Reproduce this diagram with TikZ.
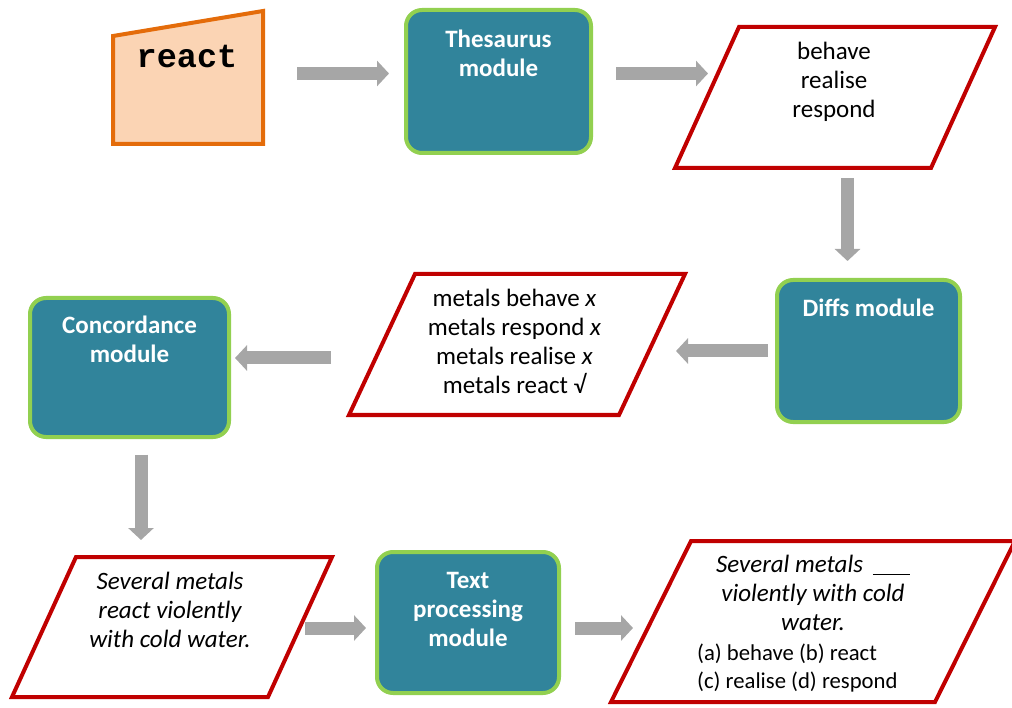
\documentclass[tikz,border=0pt]{standalone}
\usepackage{fontspec}
\setmainfont{Carlito}
\newfontfamily\reactfont{Liberation Mono}
\usetikzlibrary{arrows.meta,calc}
\definecolor{modfill}{HTML}{31849B}
\definecolor{modline}{HTML}{92D050}
\definecolor{paracol}{HTML}{C00000}
\definecolor{reactcol}{HTML}{E46C0A}
\definecolor{reactfill}{HTML}{FBD4B4}
\definecolor{arrowgray}{HTML}{A6A6A6}
\tikzset{
  module/.style={draw=modline, fill=modfill, line width=4pt, rounded corners=16pt, inner sep=0pt, outer sep=0pt},
  modtext/.style={text=white, font=\fontsize{25}{29}\selectfont\bfseries, align=center, inner sep=0pt,
    execute at begin node=\strut, execute at end node=\strut},
  ghost/.style={draw=none, inner sep=0pt, outer sep=0pt},
  paraline/.style={draw=paracol, line width=4pt, line join=miter},
  paratext/.style={text=black, font=\fontsize{25}{29}\selectfont, align=center, inner sep=0pt,
    execute at begin node=\strut, execute at end node=\strut},
  smalltext/.style={text=black, font=\fontsize{22.7}{28}\selectfont, align=left, inner sep=0pt,
    execute at begin node=\strut, execute at end node=\strut},
  bigarrow/.style={draw=arrowgray, line width=13pt, -{Triangle[length=12pt,width=25pt]}}
}
\begin{document}
\begin{tikzpicture}[x=1pt,y=-1pt]
\useasboundingbox (0,0) rectangle (1012,708);

% react input shape
\node[ghost, minimum width=150pt, minimum height=133pt] (react) at (188,77.5) {};
\draw[draw=reactcol, fill=reactfill, line width=4pt, line join=miter]
  (react.south west) -- ($(react.north west)+(0,25)$) -- (react.north east) -- (react.south east) -- cycle;
\node[inner sep=0pt, font=\fontsize{33.5}{36}\selectfont\reactfont\bfseries] (reacttxt) at (187,57) {react};

% modules
\node[module, minimum width=185pt, minimum height=143pt] (thes) at (498.5,81.5) {};
\node[modtext] (thestxt) at (498.5,58) {Thesaurus\\module};

\node[module, minimum width=183pt, minimum height=142pt] (diffs) at (868.5,351) {};
\node[modtext] (diffstxt) at (868.5,311) {Diffs module};

\node[module, minimum width=199pt, minimum height=139pt] (conc) at (129.5,367.5) {};
\node[modtext] (conctxt) at (129.5,343.5) {Concordance\\module};

\node[module, minimum width=182pt, minimum height=141pt] (tp) at (468,622.5) {};
\node[modtext] (tptxt) at (468,613.5) {Text\\processing\\module};

% parallelograms
\node[ghost, minimum width=320pt, minimum height=141pt] (p1) at (835,97.5) {};
\draw[paraline] (p1.south west) -- ($(p1.north west)+(64,0)$) -- (p1.north east) -- ($(p1.south east)+(-64,0)$) -- cycle;
\node[paratext] (p1txt) at (834,84) {behave\\realise\\respond};

\node[ghost, minimum width=336pt, minimum height=141pt] (p2) at (517,344.5) {};
\draw[paraline] (p2.south west) -- ($(p2.north west)+(66,0)$) -- (p2.north east) -- ($(p2.south east)+(-66,0)$) -- cycle;
\node[paratext] (p2txt) at (514.5,346) {metals behave \textit{x}\\metals respond \textit{x}\\metals realise \textit{x}\\metals react √};

\node[ghost, minimum width=320pt, minimum height=140pt] (p3) at (172,627) {};
\draw[paraline] (p3.south west) -- ($(p3.north west)+(64,0)$) -- (p3.north east) -- ($(p3.south east)+(-64,0)$) -- cycle;
\node[paratext, font=\fontsize{25}{29}\selectfont\itshape] (p3txt) at (170,614) {Several metals\\react violently\\with cold water.};

\node[ghost, minimum width=404pt, minimum height=161pt] (p4) at (813,621.5) {};
\draw[paraline] (p4.south west) -- ($(p4.north west)+(80,0)$) -- (p4.north east) -- ($(p4.south east)+(-80,0)$) -- cycle;
\node[paratext, font=\fontsize{25}{29}\selectfont\itshape] (p4txt) at (813,597) {Several metals\hspace{10pt}\rule[-3pt]{37pt}{1.5pt}\\violently with cold\\water.};
\node[smalltext, anchor=west] (p4opts) at (697,670) {(a) behave (b) react\\(c) realise (d) respond};

% arrows
\draw[bigarrow, shorten <=34pt, shorten >=17pt] ($(react.east)+(0,-4)$) -- ($(react.east -| thes.west)+(0,-4)$);
\draw[bigarrow, shorten <=25pt, shorten >=-33pt] ($(thes.east)+(0,-8)$) -- ($(thes.east -| p1.west)+(0,-8)$);
\draw[bigarrow, shorten <=10pt, shorten >=19pt] ($(p1.south)+(12.5,0)$) -- ($(diffs.north -| p1.south)+(12.5,0)$);
\draw[bigarrow, shorten <=9pt, shorten >=-9pt] (diffs.west) -- (diffs.west -| p2.east);
\draw[bigarrow, shorten <=18pt, shorten >=6pt] ($(p2.west)+(0,13.5)$) -- ($(p2.west -| conc.east)+(0,13.5)$);
\draw[bigarrow, shorten <=17.5pt, shorten >=17pt] ($(conc.south)+(11.5,0)$) -- ($(p3.north -| conc.south)+(11.5,0)$);
\draw[bigarrow, shorten <=-27pt, shorten >=11pt] ($(p3.east)+(0,1)$) -- ($(p3.east -| tp.west)+(0,1)$);
\draw[bigarrow, shorten <=16pt, shorten >=-22pt] ($(tp.east)+(0,5.5)$) -- ($(tp.east -| p4.west)+(0,5.5)$);
\end{tikzpicture}
\end{document}
